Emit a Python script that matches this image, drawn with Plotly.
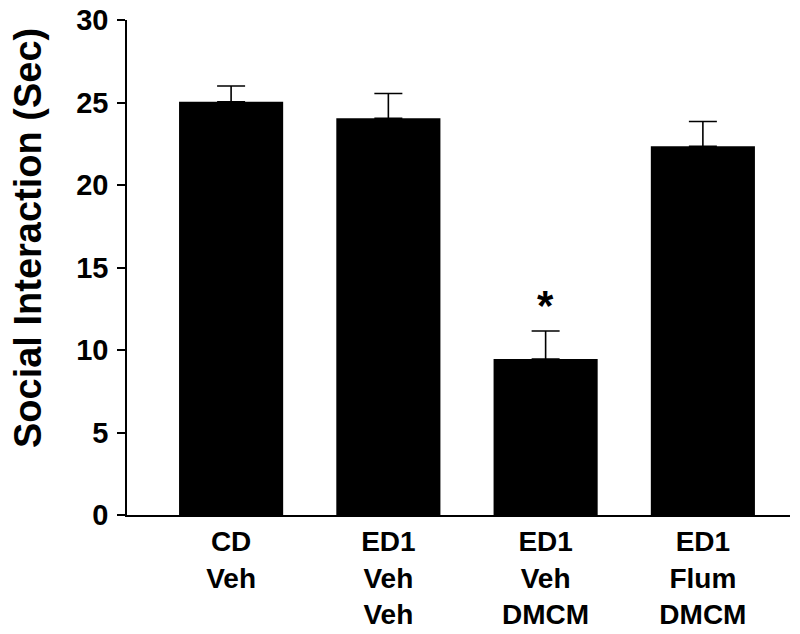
import plotly.graph_objects as go

groups = ["CD<br>Veh", "ED1<br>Veh<br>Veh", "ED1<br>Veh<br>DMCM", "ED1<br>Flum<br>DMCM"]
means = [25.05, 24.05, 9.45, 22.35]
sem = [0.95, 1.5, 1.7, 1.5]
sig = ["", "", "*", ""]
y_ticks = [0, 5, 10, 15, 20, 25, 30]

FONT = "Liberation Sans, Arial, sans-serif"
xs = list(range(len(groups)))

fig = go.Figure()
fig.add_trace(go.Bar(
    x=xs, y=means,
    marker=dict(color="black", line=dict(width=0)),
    width=0.662,
    error_y=dict(type="data", array=sem, symmetric=False, arrayminus=[0]*4,
                 color="black", thickness=1.6, width=14, visible=True),
    showlegend=False,
))

for i, s in enumerate(sig):
    if s:
        fig.add_annotation(x=xs[i], y=means[i] + sem[i], text="<b>" + s + "</b>",
                           showarrow=False, yanchor="bottom", yshift=0,
                           font=dict(family=FONT, size=42, color="black"))

fig.add_annotation(text="<b>Social Interaction (Sec)</b>", textangle=-90,
                   xref="paper", yref="paper", x=-0.149, y=0.56,
                   xanchor="center", yanchor="middle", showarrow=False,
                   font=dict(family=FONT, size=38, color="black"))

fig.update_layout(
    width=800, height=634,
    margin=dict(l=119, r=18, t=12, b=127),
    paper_bgcolor="white", plot_bgcolor="white",
    font=dict(family=FONT, color="black"),
    xaxis=dict(range=[-0.662, 3.554], tickmode="array", tickvals=xs,
               ticktext=["<b>" + g + "</b>" for g in groups],
               showline=True, linecolor="black", linewidth=1.6,
               ticks="", showgrid=False, zeroline=False, automargin=False,
               tickfont=dict(family=FONT, size=28, color="black"),
               ticklabelstandoff=1),
    yaxis=dict(range=[0, 30], tickmode="array", tickvals=y_ticks,
               ticktext=["<b>%d</b>" % v for v in y_ticks],
               showline=True, linecolor="black", linewidth=1.6,
               ticks="outside", ticklen=8, tickwidth=1.6, tickcolor="black",
               showgrid=False, zeroline=False, automargin=False,
               ticklabeloverflow="allow",
               tickfont=dict(family=FONT, size=29, color="black"),
               ticklabelstandoff=3),
)

fig.write_html("out.html")
